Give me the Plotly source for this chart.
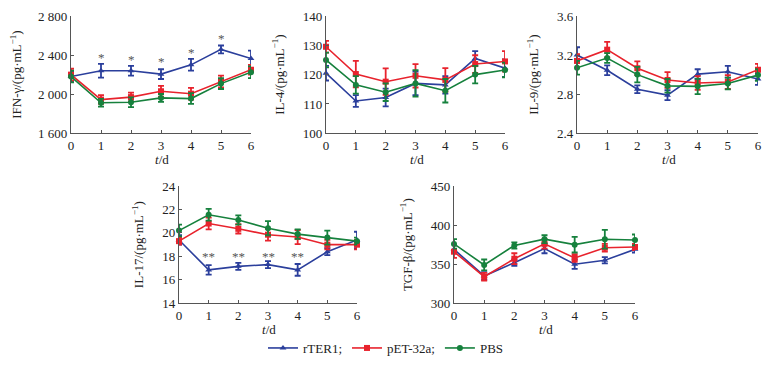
import plotly.graph_objects as go

days = [0, 1, 2, 3, 4, 5, 6]
series_names = ["rTER1;", "pET-32a;", "PBS"]

# IFN-gamma
ifn_rter = [2180, 2240, 2240, 2205, 2300, 2458, 2365]
ifn_rter_err = [50, 70, 50, 50, 60, 40, 80]
ifn_pet = [2200, 1945, 1970, 2030, 2005, 2130, 2250]
ifn_pet_err = [60, 45, 45, 55, 60, 60, 50]
ifn_pbs = [2180, 1912, 1918, 1962, 1955, 2108, 2225]
ifn_pbs_err = [60, 40, 50, 40, 55, 55, 60]
ifn_star_y = [None, 2380, 2355, 2330, 2428, 2566, None]

# IL-4
il4_rter = [120.5, 111.0, 112.2, 117.0, 116.5, 125.5, 122.2]
il4_rter_err = [2.5, 2.0, 3.0, 4.0, 3.0, 2.5, 3.0]
il4_pet = [129.5, 120.2, 117.6, 119.6, 118.2, 123.6, 124.5]
il4_pet_err = [2.0, 4.5, 4.5, 4.0, 4.0, 3.0, 3.5]
il4_pbs = [125.0, 116.5, 114.0, 117.0, 114.5, 120.0, 121.6]
il4_pbs_err = [2.5, 3.0, 3.0, 4.5, 4.0, 3.0, 2.5]

# IL-9
il9_rter = [3.20, 3.045, 2.85, 2.79, 3.005, 3.03, 2.955]
il9_rter_err = [0.08, 0.05, 0.04, 0.05, 0.05, 0.06, 0.06]
il9_pet = [3.14, 3.255, 3.065, 2.945, 2.915, 2.925, 3.05]
il9_pet_err = [0.07, 0.08, 0.07, 0.08, 0.07, 0.07, 0.06]
il9_pbs = [3.07, 3.17, 3.00, 2.885, 2.88, 2.91, 2.995]
il9_pbs_err = [0.07, 0.05, 0.08, 0.07, 0.08, 0.06, 0.06]

# IL-17
il17_rter = [19.4, 16.85, 17.15, 17.3, 16.85, 18.4, 19.4]
il17_rter_err = [0.4, 0.4, 0.3, 0.3, 0.5, 0.3, 0.7]
il17_pet = [19.3, 20.8, 20.35, 19.85, 19.65, 19.0, 19.0]
il17_pet_err = [0.3, 0.5, 0.4, 0.5, 0.6, 0.4, 0.4]
il17_pbs = [20.2, 21.55, 21.1, 20.4, 19.9, 19.6, 19.3]
il17_pbs_err = [0.5, 0.5, 0.4, 0.6, 0.4, 0.6, 0.3]
il17_star_y = [None, 17.95, 17.95, 17.95, 17.95, None, None]

# TGF-beta
tgf_rter = [369, 335, 352, 370, 350, 355, 369]
tgf_rter_err = [5, 5, 4, 6, 6, 4, 4]
tgf_pet = [366, 334, 357, 376, 358, 371, 372]
tgf_pet_err = [8, 5, 7, 6, 5, 5, 4]
tgf_pbs = [376, 349, 374, 382, 375, 382, 381]
tgf_pbs_err = [6, 7, 4, 5, 10, 12, 7]

ifn_ticks = [1600, 2000, 2400, 2800]
ifn_ticklabels = ["1 600", "2 000", "2 400", "2 800"]

colors = ["#2b3f9c", "#e8232d", "#16813d"]
symbols = ["triangle-up", "square", "circle"]

# page has an 8px body margin; figure is sized to fill the window exactly
OFF = 8
W, H = 784 - 2 * OFF, 371 - 2 * OFF


def px(x):
    return (x - OFF) / W


def py(y):
    return 1 - (y - OFF) / H


panels = [
    dict(data=[(ifn_rter, ifn_rter_err), (ifn_pet, ifn_pet_err), (ifn_pbs, ifn_pbs_err)],
         title="IFN-γ/(pg·mL<sup>−1</sup>)", yr=[1600, 2800], tv=ifn_ticks, tt=ifn_ticklabels,
         box=(71, 251, 16, 134), stars=(ifn_star_y, "*")),
    dict(data=[(il4_rter, il4_rter_err), (il4_pet, il4_pet_err), (il4_pbs, il4_pbs_err)],
         title="IL-4/(pg·mL<sup>−1</sup>)", yr=[100, 140], tv=[100, 110, 120, 130, 140], tt=None,
         box=(326, 505, 16, 134), stars=None),
    dict(data=[(il9_rter, il9_rter_err), (il9_pet, il9_pet_err), (il9_pbs, il9_pbs_err)],
         title="IL-9/(pg·mL<sup>−1</sup>)", yr=[2.4, 3.6], tv=[2.4, 2.8, 3.2, 3.6], tt=["2.4", "2.8", "3.2", "3.6"],
         box=(577, 758, 16, 134), stars=None),
    dict(data=[(il17_rter, il17_rter_err), (il17_pet, il17_pet_err), (il17_pbs, il17_pbs_err)],
         title="IL-17/(pg·mL<sup>−1</sup>)", yr=[14, 24], tv=[14, 16, 18, 20, 22, 24], tt=None,
         box=(179, 357, 187, 305), stars=(il17_star_y, "**")),
    dict(data=[(tgf_rter, tgf_rter_err), (tgf_pet, tgf_pet_err), (tgf_pbs, tgf_pbs_err)],
         title="TGF-β/(pg·mL<sup>−1</sup>)", yr=[300, 450], tv=[300, 350, 400, 450], tt=None,
         box=(454, 635, 187, 305), stars=None),
]

fig = go.Figure()
font = dict(family="Liberation Serif, Times New Roman, serif", size=13, color="#222")

for i, p in enumerate(panels):
    n = "" if i == 0 else str(i + 1)
    xa, ya = "x" + n, "y" + n
    x0, x1, y0, y1 = p["box"]
    for j, (vals, errs) in enumerate(p["data"]):
        fig.add_trace(go.Scatter(
            x=days, y=vals, xaxis=xa, yaxis=ya, name=series_names[j],
            mode="lines+markers", showlegend=(i == 0),
            line=dict(color=colors[j], width=1.6),
            marker=dict(symbol=symbols[j], size=6, color=colors[j]),
            error_y=dict(type="data", array=errs, visible=True, color=colors[j], thickness=1.8, width=3),
            cliponaxis=False,
        ))
    axis_common = dict(showline=True, linecolor="#555", linewidth=1.2, ticks="inside", ticklen=3,
                       tickcolor="#555", showgrid=False, zeroline=False, tickfont=font,
                       automargin=False)
    fig.update_layout(**{
        "xaxis" + n: dict(domain=[px(x0), px(x1)], range=[0, 6], tickvals=days, anchor=ya,
                          **axis_common),
        "yaxis" + n: dict(domain=[py(y1), py(y0)], range=p["yr"], tickvals=p["tv"], anchor=xa,
                          ticktext=p["tt"] if p["tt"] else None,
                          title=dict(text=p["title"], font=font), **axis_common),
    })
    # x-axis title
    fig.add_annotation(x=px((x0 + x1) / 2 + 1), y=py(y1 + 26), xref="paper", yref="paper",
                       text="<i>t</i>/d", showarrow=False, font=font,
                       xanchor="center", yanchor="middle")
    if p["stars"]:
        sy, stxt = p["stars"]
        for d, yv in zip(days, sy):
            if yv is not None:
                fig.add_annotation(x=d, y=yv, xref=xa, yref=ya, text=stxt, showarrow=False,
                                   font=dict(family=font["family"], size=13, color="#555"))

fig.update_layout(
    width=W, height=H, margin=dict(l=0, r=0, t=0, b=0),
    plot_bgcolor="white", paper_bgcolor="white", font=font,
    legend=dict(orientation="h", x=px(386), y=py(350), xanchor="center", yanchor="middle",
                font=dict(family=font["family"], size=13, color="#222"),
                bgcolor="rgba(0,0,0,0)"),
)

fig.write_html("out.html")
